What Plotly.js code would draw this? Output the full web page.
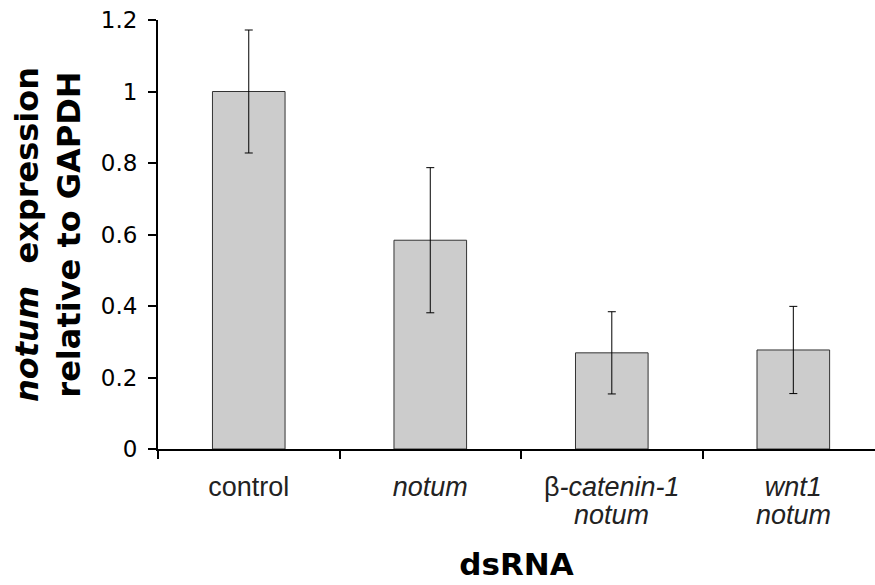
<!DOCTYPE html>
<html>
<head>
<meta charset="utf-8">
<script src="https://cdn.plot.ly/plotly-3.0.1.min.js"></script>
<style>html,body{margin:0;padding:0;background:#fff;}#chart{width:875px;height:585px;}</style>
</head>
<body>
<div id="chart"></div>
<script>
const categories = ["control", "notum", "beta-catenin-1 notum", "wnt1 notum"];
const tickLine1 = ["control", "<i>notum</i>", "β<i>-catenin-1</i>", "<i>wnt1</i>"];
const tickLine2 = ["", "", "<i>notum</i>", "<i>notum</i>"];
const expression = [1.0, 0.584, 0.269, 0.277];
const errors = [0.172, 0.203, 0.115, 0.122];
const yTickVals = [0, 0.2, 0.4, 0.6, 0.8, 1.0, 1.2];
const yTickText = ["0", "0.2", "0.4", "0.6", "0.8", "1", "1.2"];

const trace = {
  type: "bar",
  x: categories,
  y: expression,
  width: 0.4,
  marker: {color: "#cccccc", line: {color: "#333333", width: 1}},
  error_y: {type: "data", array: errors, visible: true, color: "#000000", thickness: 1, width: 4}
};

const tickFont = {family: "Liberation Sans, Arial, sans-serif", size: 27, color: "#222222"};

const annotations = categories.map((c, i) => ({
  x: c, xref: "x", y: 0, yref: "y",
  text: tickLine2[i], showarrow: false,
  yanchor: "middle", xanchor: "center", yshift: -66,
  font: tickFont
})).filter((a, i) => tickLine2[i] !== "");

const layout = {
  width: 875, height: 585,
  margin: {l: 158, r: 0, t: 20, b: 136},
  paper_bgcolor: "#ffffff", plot_bgcolor: "#ffffff",
  showlegend: false,
  annotations: annotations,
  xaxis: {
    type: "category",
    range: [-0.5, 3.45],
    tickmode: "array", tickvals: categories, ticktext: tickLine1,
    showline: true, linecolor: "#000000", linewidth: 2,
    ticks: "outside", tickson: "boundaries", ticklen: 8, tickwidth: 2, tickcolor: "#000000",
    ticklabelstandoff: 13,
    showgrid: false, zeroline: false,
    tickfont: tickFont,
    title: {text: "<b>dsRNA</b>", font: {family: "DejaVu Sans, Verdana, sans-serif", size: 31, color: "#000000"}, standoff: 52}
  },
  yaxis: {
    range: [0, 1.2],
    tickvals: yTickVals, ticktext: yTickText,
    showline: true, linecolor: "#000000", linewidth: 2,
    ticks: "outside", ticklen: 8, tickwidth: 2, tickcolor: "#000000",
    ticklabelstandoff: 6,
    showgrid: false, zeroline: false,
    tickfont: {family: "DejaVu Sans, Verdana, sans-serif", size: 23, color: "#000000"},
    title: {text: "<b><i>notum</i>  expression<br>relative to GAPDH</b>", font: {family: "DejaVu Sans, Verdana, sans-serif", size: 32, color: "#000000"}, standoff: 11}
  }
};

Plotly.newPlot("chart", [trace], layout, {displayModeBar: false, staticPlot: true});
</script>
</body>
</html>
